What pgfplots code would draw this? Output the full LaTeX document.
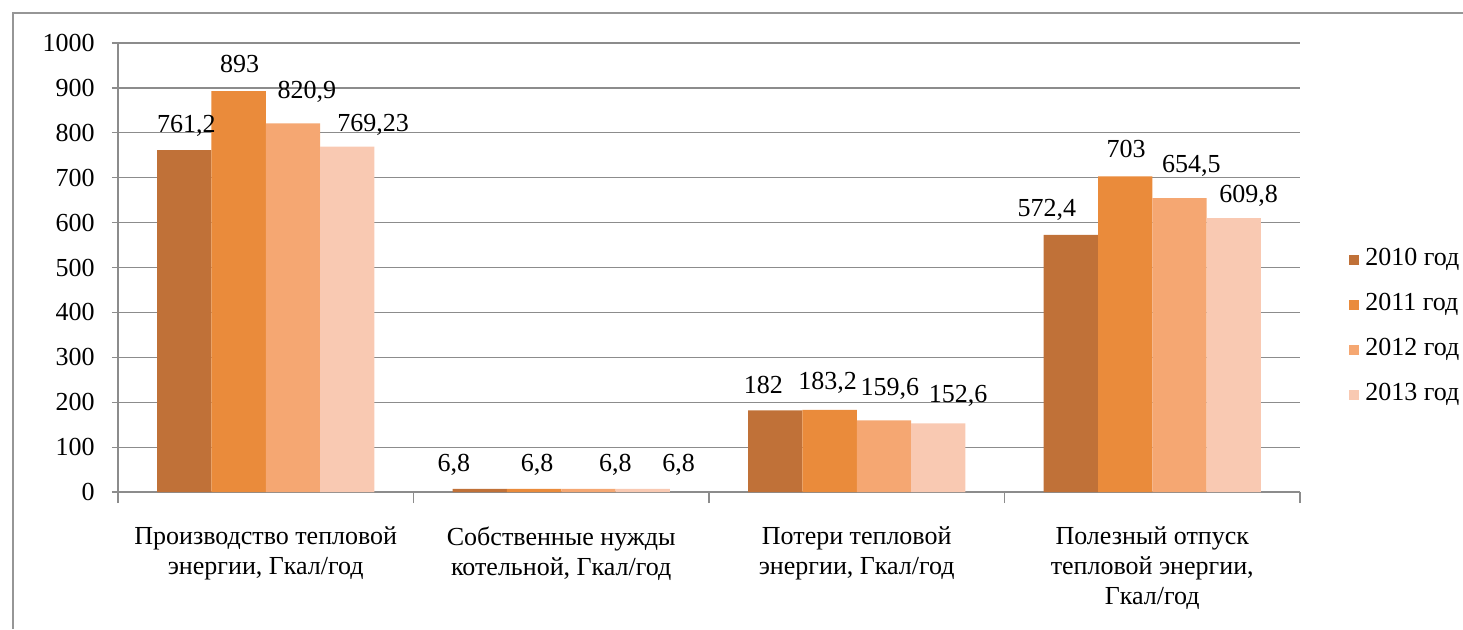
\documentclass[border=0pt]{standalone}
\usepackage{pgfplots}
\usepackage{pgfplotstable}
\pgfplotsset{compat=1.18}
\usepackage{fontspec}
\setmainfont{Liberation Serif}
\definecolor{c10}{RGB}{192,113,56}
\definecolor{c11}{RGB}{234,139,59}
\definecolor{c12}{RGB}{245,167,114}
\definecolor{c13}{RGB}{249,201,178}
\definecolor{gridc}{RGB}{140,140,140}
\definecolor{framec}{RGB}{150,150,150}
\newcommand\cf{\fontsize{13}{15}\selectfont}
\pgfplotstableread{
x y lbl dx dy
-0.2754 761.2 761,2 1 9
0.7246 6.8 6,8 -13 8.5
1.7246 182 182 -6 8.5
2.7246 572.4 572,4 -12 9
}\tA
\pgfplotstableread{
x y lbl dx dy
-0.0918 893 893 0.5 9.5
0.9082 6.8 6,8 1.5 8.5
1.9082 183.2 183,2 -1 10
2.9082 703 703 0.5 9.5
}\tB
\pgfplotstableread{
x y lbl dx dy
0.0918 820.9 820,9 7 12.5
1.0918 6.8 6,8 13.5 8.5
2.0918 159.6 159,6 3 12.5
3.0918 654.5 654,5 6 13
}\tC
\pgfplotstableread{
x y lbl dx dy
0.2754 769.23 769,23 13 7.5
1.2754 6.8 6,8 18 8.5
2.2754 152.6 152,6 10 10.5
3.2754 609.8 609,8 7.5 8
}\tD
\pgfplotsset{
  mybar/.style={ybar, bar width=0.1836, bar shift=0pt, draw=none,
    legend image code/.code={\fill[##1,draw=none] (0pt,-2.5pt) rectangle (5pt,2.5pt);}},
}
\begin{document}
\begin{tikzpicture}[x=1pt,y=1pt]
\useasboundingbox (0,0) rectangle (731.5,314.5);
\draw[framec, line width=1.2pt] (6.5,0) -- (6.5,308) -- (731.5,308);
\begin{axis}[
  at={(59pt,68.5pt)}, anchor=south west,
  scale only axis, width=591pt, height=224.5pt,
  ymin=0, ymax=1000, xmin=-0.5, xmax=3.5,
  axis x line*=bottom, axis y line*=left,
  axis line style={gridc, line width=0.6pt},
  ymajorgrids, major grid style={gridc, line width=0.6pt},
  tick align=outside,
  ytick={0,100,200,300,400,500,600,700,800,900,1000},
  yticklabels={0,100,200,300,400,500,600,700,800,900,1000},
  major tick length=3pt,
  tick style={gridc, line width=0.6pt},
  xtick={0,1,2,3},
  major x tick style={draw=none},
  minor xtick={-0.5,0.5,1.5,2.5,3.5},
  minor tick length=5.5pt,
  xticklabels={{Производство тепловой\\энергии, Гкал/год},{Собственные нужды\\котельной, Гкал/год},{Потери тепловой\\энергии, Гкал/год},{Полезный отпуск\\тепловой энергии,\\Гкал/год}},
  xticklabel style={font=\cf, align=center, anchor=north, inner sep=0pt, yshift=-14pt},
  yticklabel style={font=\cf, anchor=east, inner sep=0pt, xshift=-8.5pt},
  nodes near coords,
  point meta=explicit symbolic,
  visualization depends on={\thisrow{dx}\as\ndx},
  visualization depends on={\thisrow{dy}\as\ndy},
  nodes near coords style={font=\cf, anchor=base, inner sep=0pt, xshift=\ndx pt, yshift=\ndy pt, text=black},
  legend style={at={(rel axis cs:1,0.367)}, anchor=west, xshift=21.5pt, draw=none, fill=none,
    font=\cf, row sep=10.5pt, column sep=3pt,
    nodes={inner sep=0pt, text height=9pt, text depth=3pt}},
  legend cell align=left,
]
\addplot[mybar, fill=c10] table[x=x, y=y, meta=lbl] {\tA};
\addplot[mybar, fill=c11] table[x=x, y=y, meta=lbl] {\tB};
\addplot[mybar, fill=c12] table[x=x, y=y, meta=lbl] {\tC};
\addplot[mybar, fill=c13] table[x=x, y=y, meta=lbl] {\tD};
\legend{2010 год,2011 год,2012 год,2013 год}
\end{axis}
\end{tikzpicture}
\end{document}
